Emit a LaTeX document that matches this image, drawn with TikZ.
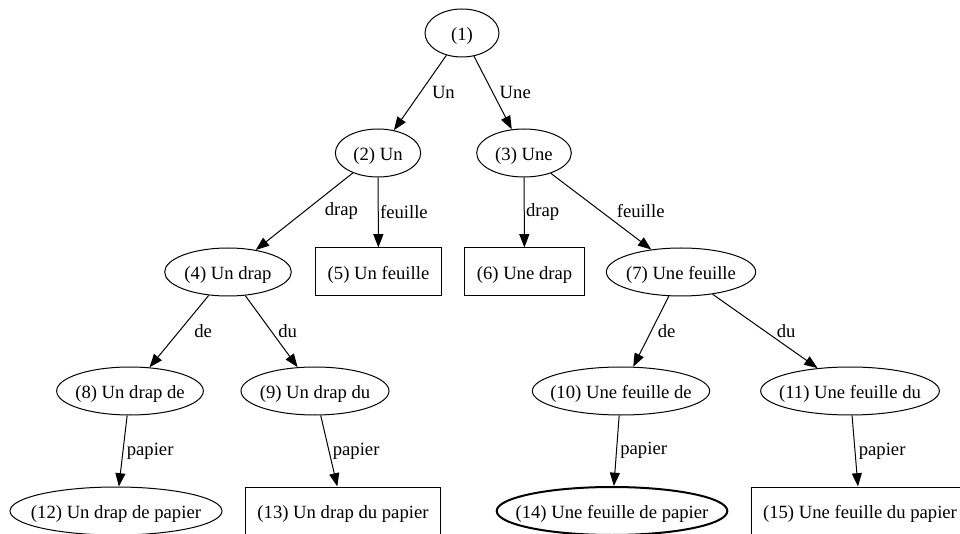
\documentclass[tikz,border=0pt]{standalone}
\usepackage{fontspec}
\setmainfont{Liberation Serif}
\usetikzlibrary{shapes.geometric,arrows.meta}

\tikzset{
  state/.style={ellipse, draw, inner xsep=-20pt, inner ysep=2pt, text height=14pt, text depth=3pt, minimum height=36pt},
  leaf/.style={rectangle, draw, inner xsep=9pt, inner ysep=2pt, text height=14pt, text depth=3pt, minimum height=36pt},
  accept/.style={state, line width=1.5pt},
  trans/.style={-{Triangle[length=10pt,width=7.5pt]}},
  lbl/.style={midway, right, inner sep=1pt},
}

\begin{document}
\begin{tikzpicture}[x=0.75pt, y=-0.75pt, line width=0.75pt, font=\fontsize{14}{16}\selectfont]
\useasboundingbox (0,0) rectangle (960,534);
\clip (0,0) rectangle (960,534);

% root
\node[state, minimum width=55.5pt] (n1) at (462,33) {(1)};

% first word
\node[state, minimum width=64pt] (n2) at (378,153) {(2) Un};
\node[state, minimum width=71pt] (n3) at (524,153) {(3) Une};

% second word
\node[state, minimum width=95pt] (n4) at (228,272) {(4) Un drap};
\node[leaf] (n5) at (378.5,272) {(5) Un feuille};
\node[leaf] (n6) at (524.5,272) {(6) Une drap};
\node[state, minimum width=112pt] (n7) at (681,272) {(7) Une feuille};

% third word
\node[state, minimum width=110pt] (n8) at (130,391) {(8) Un drap de};
\node[state, minimum width=111pt] (n9) at (315,391) {(9) Un drap du};
\node[state, minimum width=133pt] (n10) at (621,391) {(10) Une feuille de};
\node[state, minimum width=134pt] (n11) at (850,391) {(11) Une feuille du};

% last word
\node[state, minimum width=159pt] (n12) at (116,511) {(12) Un drap de papier};
\node[leaf] (n13) at (343,511) {(13) Un drap du papier};
\node[accept, minimum width=173pt] (n14) at (612,511) {(14) Une feuille de papier};
\node[leaf] (n15) at (860,511) {(15) Une feuille du papier};

% transitions
\draw[trans] (n1) -- (n2) node[lbl, xshift=7.5pt] {Un};
\draw[trans] (n1) -- (n3) node[lbl, xshift=3.75pt] {Une};
\draw[trans] (n2) -- (n4) node[lbl, xshift=14pt] {drap};
\draw[trans] (n2) -- (n5) node[lbl] {feuille};
\draw[trans] (n3) -- (n6) node[lbl] {drap};
\draw[trans] (n3) -- (n7) node[lbl, xshift=10.5pt] {feuille};
\draw[trans] (n4) -- (n8) node[lbl, xshift=10pt] {de};
\draw[trans] (n4) -- (n9) node[lbl, xshift=3.75pt] {du};
\draw[trans] (n7) -- (n10) node[lbl, xshift=3.75pt] {de};
\draw[trans] (n7) -- (n11) node[lbl, xshift=7.5pt] {du};
\draw[trans] (n8) -- (n12) node[lbl, xshift=1.5pt] {papier};
\draw[trans] (n9) -- (n13) node[lbl, xshift=1.5pt] {papier};
\draw[trans] (n10) -- (n14) node[lbl, xshift=1.5pt] {papier};
\draw[trans] (n11) -- (n15) node[lbl, xshift=1.5pt] {papier};

\end{tikzpicture}
\end{document}
